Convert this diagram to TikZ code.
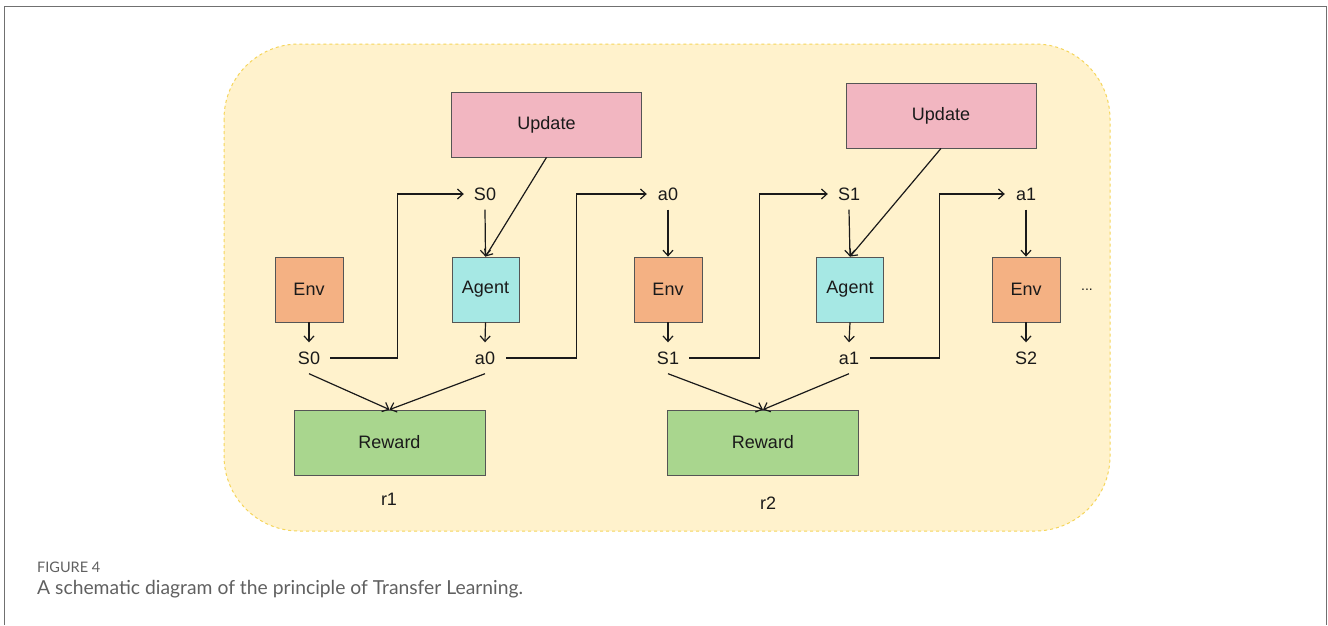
\documentclass[tikz,border=0pt]{standalone}
\usepackage{fontspec}
\setmainfont{Liberation Sans}
\newfontfamily\capfont{Lato}
\usetikzlibrary{arrows.meta}
\definecolor{bgfill}{HTML}{FFF2CC}
\definecolor{bgline}{HTML}{F5D55A}
\definecolor{envc}{HTML}{F4B183}
\definecolor{agentc}{HTML}{A6E8E4}
\definecolor{updc}{HTML}{F2B6C1}
\definecolor{rewc}{HTML}{A9D68E}
\definecolor{boxline}{HTML}{555555}
\definecolor{txt}{HTML}{1A1A1A}
\definecolor{capc}{HTML}{606060}
\definecolor{framec}{HTML}{707070}
\tikzset{
  boxbase/.style={draw=boxline, line width=0.8pt, inner sep=0pt, text=txt, font=\fontsize{18}{21}\selectfont},
  envbox/.style={boxbase, fill=envc, minimum width=68pt, minimum height=65pt},
  agentbox/.style={boxbase, fill=agentc, minimum width=67pt, minimum height=65pt},
  updbox/.style={boxbase, fill=updc, minimum width=190pt, minimum height=65pt},
  rewbox/.style={boxbase, fill=rewc, minimum width=191pt, minimum height=65pt},
  lbl/.style={inner sep=0pt, minimum width=42pt, minimum height=31pt, text=txt, font=\fontsize{18}{21}\selectfont},
  conn/.style={draw=txt, line width=1.2pt, -{Straight Barb[length=5.5pt,width=10pt,line width=1.2pt]}},
}
\begin{document}
\begin{tikzpicture}[x=1pt,y=-1pt]
\useasboundingbox (0,0) rectangle (1328,625);
% frame
\draw[framec, line width=1.2pt] (4.5,625) -- (4.5,6.5) -- (1326.5,6.5) -- (1326.5,625);
% background
\draw[fill=bgfill, draw=bgline, dashed, line width=1pt, rounded corners=75pt] (224,44) rectangle (1110,531);

% boxes
\node[updbox] (up1) at (546.5,124.5) {Update};
\node[updbox] (up2) at (941,115.5) {Update};
\node[envbox] (env1) at (309,289.5) {Env};
\node[agentbox] (ag1) at (485.5,289.5) {Agent};
\node[envbox] (env2) at (668,289.5) {Env};
\node[agentbox] (ag2) at (850,289.5) {Agent};
\node[envbox] (env3) at (1026,289.5) {Env};
\node[text=txt, font=\fontsize{14}{16}\selectfont] (dots) at (1087,290) {...};
\node[rewbox] (rew1) at (389.5,442.5) {Reward};
\node[rewbox] (rew2) at (763,442.5) {Reward};
\node[lbl] (r1) at (389,499) {r1};
\node[lbl] (r2) at (768,503) {r2};

% top labels
\node[lbl] (s0t) at (485,194) {S0};
\node[lbl] (a0t) at (668,194) {a0};
\node[lbl] (s1t) at (849,194) {S1};
\node[lbl] (a1t) at (1026,194) {a1};
% bottom labels
\node[lbl] (s0b) at (309,358) {S0};
\node[lbl] (a0b) at (485,358) {a0};
\node[lbl] (s1b) at (668,358) {S1};
\node[lbl] (a1b) at (849,358) {a1};
\node[lbl] (s2b) at (1026,358) {S2};

% vertical arrows
\draw[conn] (env1.south) -- (s0b.north);
\draw[conn] (ag1.south) -- (a0b.north);
\draw[conn] (env2.south) -- (s1b.north);
\draw[conn] (ag2.south) -- (a1b.north);
\draw[conn] (env3.south) -- (s2b.north);
\draw[conn] (s0t.south) -- (ag1.north);
\draw[conn] (a0t.south) -- (env2.north);
\draw[conn] (s1t.south) -- (ag2.north);
\draw[conn] (a1t.south) -- (env3.north);

% update arrows
\draw[conn] (up1.south) -- (ag1.north);
\draw[conn] (up2.south) -- (ag2.north);

% elbow connectors
\draw[conn] (s0b.east) -- ++(67,0) |- (s0t.west);
\draw[conn] (a0b.east) -- ++(70,0) |- (a0t.west);
\draw[conn] (s1b.east) -- ++(70,0) |- (s1t.west);
\draw[conn] (a1b.east) -- ++(69,0) |- (a1t.west);

% reward arrows
\draw[conn] (s0b.south) -- (rew1.north);
\draw[conn] (a0b.south) -- (rew1.north);
\draw[conn] (s1b.south) -- (rew2.north);
\draw[conn] (a1b.south) -- (rew2.north);

% caption
\node[anchor=base west, inner sep=0pt, text=capc, font=\capfont\fontsize{14.5}{16}\selectfont] (figlbl) at (37,572) {FIGURE 4};
\node[anchor=base west, inner sep=0pt, text=capc, font=\capfont\fontsize{19.3}{22}\selectfont] (captxt) at (37,594) {A schematic diagram of the principle of Transfer Learning.};
\end{tikzpicture}
\end{document}
